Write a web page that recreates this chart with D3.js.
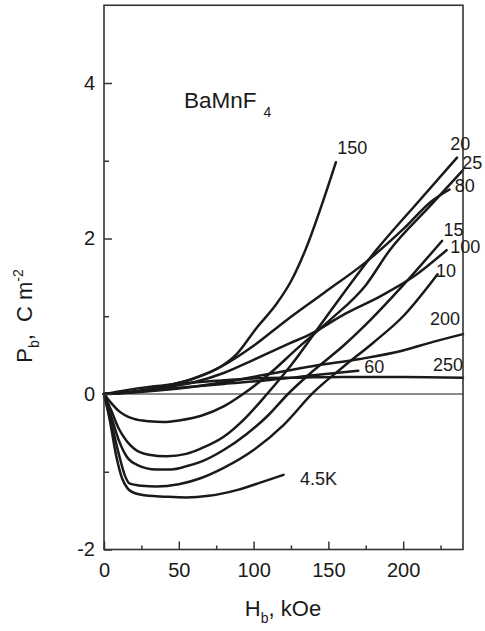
<!DOCTYPE html>
<html>
<head>
<meta charset="utf-8">
<script src="https://cdn.jsdelivr.net/npm/d3@7"></script>
<style>
  html, body { margin: 0; padding: 0; background: #fff; }
  svg { display: block; }
  text { font-family: "Liberation Sans", Arial, Helvetica, sans-serif; fill: #1a1a1a; }
</style>
</head>
<body>
<svg id="chart" width="485" height="631"></svg>
<script>
// ---- data (H in kOe, P in C m^-2) ----
const xTicks = [0, 50, 100, 150, 200];
const xMinorTicks = [25, 75, 125, 175, 225];
const yTicks = [-2, 0, 2, 4];
const yMinorTicks = [-1, 1, 3];

const curve4_5K = [[0,0],[4,-0.35],[8,-0.78],[12,-1.08],[16,-1.22],[20,-1.27],[30,-1.31],[40,-1.32],[55,-1.33],[70,-1.31],[90,-1.23],[106,-1.13],[120,-1.04]];
const curve10 = [[0,0],[5,-0.38],[10,-0.78],[14,-1.05],[17,-1.15],[25,-1.18],[35,-1.19],[50,-1.16],[65,-1.08],[80,-0.95],[100,-0.72],[120,-0.4],[140,0.02],[160,0.35],[180,0.66],[200,1.0],[223,1.54]];
const curve15 = [[0,0],[5,-0.3],[10,-0.6],[15,-0.8],[22,-0.91],[35,-0.97],[45,-0.97],[55,-0.93],[65,-0.87],[80,-0.72],[95,-0.52],[110,-0.27],[123,0],[140,0.3],[160,0.62],[178,0.95],[200,1.4],[226,1.97]];
const curve20 = [[0,0],[5,-0.22],[10,-0.45],[15,-0.6],[20,-0.7],[30,-0.78],[42,-0.8],[55,-0.77],[65,-0.7],[80,-0.55],[95,-0.3],[109,0],[125,0.37],[147,0.95],[182,1.85],[210,2.47],[236,3.04]];
const curve25 = [[0,0],[5,-0.12],[10,-0.22],[20,-0.32],[30,-0.35],[40,-0.36],[50,-0.34],[65,-0.28],[80,-0.16],[93,0],[110,0.25],[130,0.6],[151,0.95],[175,1.4],[191,1.85],[218,2.42],[240,2.88]];
const curve60 = [[0,0],[20,0.03],[50,0.08],[80,0.13],[111,0.18],[140,0.24],[170,0.3]];
const curve80 = [[0,0],[20,0.03],[40,0.1],[60,0.2],[80,0.37],[100,0.62],[122,0.95],[147,1.3],[174,1.68],[200,2.12],[219,2.48],[231,2.63]];
const curve100 = [[0,0],[20,0.03],[40,0.08],[60,0.15],[80,0.27],[100,0.44],[124,0.65],[138,0.77],[162,1.04],[185,1.26],[207,1.51],[229,1.85]];
const curve150 = [[0,0],[20,0.03],[40,0.1],[60,0.2],[78,0.35],[89,0.52],[102,0.85],[115,1.15],[125,1.45],[135,1.87],[145,2.4],[155,2.98]];
const curve200 = [[0,0],[20,0.02],[50,0.07],[80,0.15],[111,0.26],[140,0.36],[171,0.45],[200,0.56],[220,0.67],[240,0.77]];
const curve250 = [[0,0],[15,0.05],[30,0.09],[50,0.13],[75,0.17],[100,0.2],[130,0.21],[160,0.22],[200,0.22],[240,0.21]];

const series = [curve4_5K, curve10, curve15, curve20, curve25, curve60, curve80, curve100, curve150, curve200, curve250];

const curveLabels = ["150", "20", "25", "80", "15", "100", "10", "200", "60", "250", "4.5K"];
const labelAt = [[156,3.09],[231.5,3.14],[239.5,2.9],[234.5,2.6],[227,2.03],[231.5,1.81],[222,1.51],[218,0.89],[174,0.27],[220,0.30],[131,-1.17]];

// ---- layout ----
const svg = d3.select("#chart");
const L = 104, R = 463, T = 5.25, B = 549.5;
const x = d3.scaleLinear().domain([0, 240]).range([L, R]);
const y = d3.scaleLinear().domain([-2, 5]).range([B, T]);
const ink = "#1a1a1a";

// zero line
svg.append("line")
  .attr("x1", x(0)).attr("x2", x(240)).attr("y1", y(0)).attr("y2", y(0))
  .attr("stroke", ink).attr("stroke-width", 1.2);

// curves
const line = d3.line().x(d => x(d[0])).y(d => y(d[1])).curve(d3.curveMonotoneX);
svg.append("g").selectAll("path").data(series).join("path")
  .attr("d", line).attr("fill", "none").attr("stroke", ink)
  .attr("stroke-width", 2.5).attr("stroke-linejoin", "round").attr("stroke-linecap", "round");

// axes
const fmt = d => String(d);
const gx = svg.append("g").attr("transform", `translate(0,${B})`)
  .call(d3.axisBottom(x).tickValues(xTicks).tickSize(-8).tickPadding(13).tickFormat(fmt));
const gxm = svg.append("g").attr("transform", `translate(0,${B})`)
  .call(d3.axisBottom(x).tickValues(xMinorTicks).tickSize(-4).tickFormat(""));
const gy = svg.append("g").attr("transform", `translate(${L},0)`)
  .call(d3.axisLeft(y).tickValues(yTicks).tickSize(-8).tickPadding(9).tickFormat(fmt));
const gym = svg.append("g").attr("transform", `translate(${L},0)`)
  .call(d3.axisLeft(y).tickValues(yMinorTicks).tickSize(-5).tickFormat(""));
[gx, gxm, gy, gym].forEach(g => {
  g.select(".domain").remove();
  g.selectAll("line").attr("stroke", "#333").attr("stroke-width", 1.5);
  g.selectAll("text").attr("font-size", 20).attr("fill", ink)
    .style("font-family", '"Liberation Sans", Arial, sans-serif');
});

// frame
svg.append("rect").attr("x", L).attr("y", T).attr("width", R - L).attr("height", B - T)
  .attr("fill", "none").attr("stroke", "#333").attr("stroke-width", 1.6);

// curve labels
svg.append("g").selectAll("text").data(curveLabels).join("text")
  .attr("x", (d, i) => x(labelAt[i][0]))
  .attr("y", (d, i) => y(labelAt[i][1]))
  .attr("font-size", 18)
  .text(d => d);

// compound label
const t = svg.append("text").attr("x", 184).attr("y", 107.5).attr("font-size", 22.5);
t.append("tspan").text("BaMnF");
t.append("tspan").attr("font-size", 14).attr("dx", 7).attr("dy", 9).text("4");

// x title
const xt = svg.append("text").attr("x", 283).attr("y", 616).attr("text-anchor", "middle").attr("font-size", 22);
xt.append("tspan").text("H");
xt.append("tspan").attr("font-size", 14).attr("dy", 7).text("b");
xt.append("tspan").attr("dy", -7).text(", kOe");

// y title
const yt = svg.append("text").attr("transform", "translate(32,316) rotate(-90)")
  .attr("text-anchor", "middle").attr("font-size", 22);
yt.append("tspan").text("P");
yt.append("tspan").attr("font-size", 14).attr("dy", 7).text("b");
yt.append("tspan").attr("dy", -7).text(",");
yt.append("tspan").attr("dx", 12).text("C m");
yt.append("tspan").attr("font-size", 14).attr("dy", -9).text("-2");
</script>
</body>
</html>
